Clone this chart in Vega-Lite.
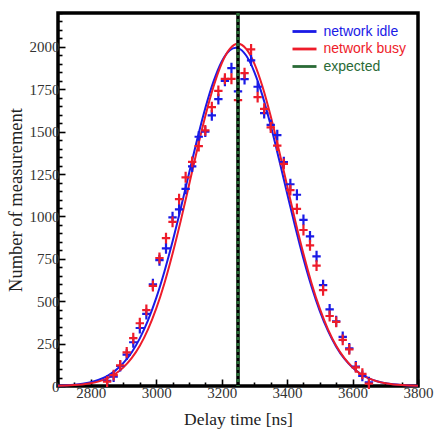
{
  "$schema": "https://vega.github.io/schema/vega-lite/v6.json",
  "width": 360,
  "height": 373,
  "autosize": "none",
  "padding": {"left": 58, "top": 13, "right": 16, "bottom": 48},
  "background": "white",
  "config": {
    "view": {"stroke": "black", "strokeWidth": 3.5},
    "axis": {
      "domain": false,
      "grid": false,
      "labelFont": "Liberation Serif",
      "labelFontSize": 15,
      "labelColor": "#333333",
      "titleFont": "Liberation Serif",
      "titleFontWeight": "normal",
      "titleColor": "#222222",
      "tickColor": "black",
      "tickWidth": 1.6
    }
  },
  "datasets": {
    "pts": [
      {"x": 2850, "y": 31, "series": "network idle"},
      {"x": 2870, "y": 55, "series": "network idle"},
      {"x": 2890, "y": 118, "series": "network idle"},
      {"x": 2910, "y": 185, "series": "network idle"},
      {"x": 2930, "y": 258, "series": "network idle"},
      {"x": 2950, "y": 342, "series": "network idle"},
      {"x": 2970, "y": 425, "series": "network idle"},
      {"x": 2990, "y": 600, "series": "network idle"},
      {"x": 3010, "y": 742, "series": "network idle"},
      {"x": 3030, "y": 812, "series": "network idle"},
      {"x": 3050, "y": 995, "series": "network idle"},
      {"x": 3070, "y": 1042, "series": "network idle"},
      {"x": 3090, "y": 1163, "series": "network idle"},
      {"x": 3110, "y": 1295, "series": "network idle"},
      {"x": 3130, "y": 1470, "series": "network idle"},
      {"x": 3150, "y": 1500, "series": "network idle"},
      {"x": 3170, "y": 1596, "series": "network idle"},
      {"x": 3190, "y": 1692, "series": "network idle"},
      {"x": 3210, "y": 1800, "series": "network idle"},
      {"x": 3230, "y": 1875, "series": "network idle"},
      {"x": 3250, "y": 1738, "series": "network idle"},
      {"x": 3270, "y": 1810, "series": "network idle"},
      {"x": 3290, "y": 1920, "series": "network idle"},
      {"x": 3310, "y": 1765, "series": "network idle"},
      {"x": 3330, "y": 1610, "series": "network idle"},
      {"x": 3350, "y": 1540, "series": "network idle"},
      {"x": 3370, "y": 1480, "series": "network idle"},
      {"x": 3390, "y": 1320, "series": "network idle"},
      {"x": 3410, "y": 1190, "series": "network idle"},
      {"x": 3430, "y": 1128, "series": "network idle"},
      {"x": 3450, "y": 980, "series": "network idle"},
      {"x": 3470, "y": 882, "series": "network idle"},
      {"x": 3490, "y": 765, "series": "network idle"},
      {"x": 3510, "y": 595, "series": "network idle"},
      {"x": 3530, "y": 452, "series": "network idle"},
      {"x": 3550, "y": 382, "series": "network idle"},
      {"x": 3570, "y": 290, "series": "network idle"},
      {"x": 3590, "y": 222, "series": "network idle"},
      {"x": 3610, "y": 115, "series": "network idle"},
      {"x": 3630, "y": 60, "series": "network idle"},
      {"x": 3650, "y": 22, "series": "network idle"},
      {"x": 2850, "y": 26, "series": "network busy"},
      {"x": 2870, "y": 64, "series": "network busy"},
      {"x": 2890, "y": 122, "series": "network busy"},
      {"x": 2910, "y": 198, "series": "network busy"},
      {"x": 2930, "y": 282, "series": "network busy"},
      {"x": 2950, "y": 370, "series": "network busy"},
      {"x": 2970, "y": 448, "series": "network busy"},
      {"x": 2990, "y": 590, "series": "network busy"},
      {"x": 3010, "y": 755, "series": "network busy"},
      {"x": 3030, "y": 872, "series": "network busy"},
      {"x": 3050, "y": 968, "series": "network busy"},
      {"x": 3070, "y": 1102, "series": "network busy"},
      {"x": 3090, "y": 1231, "series": "network busy"},
      {"x": 3110, "y": 1322, "series": "network busy"},
      {"x": 3130, "y": 1415, "series": "network busy"},
      {"x": 3150, "y": 1508, "series": "network busy"},
      {"x": 3170, "y": 1645, "series": "network busy"},
      {"x": 3190, "y": 1741, "series": "network busy"},
      {"x": 3210, "y": 1812, "series": "network busy"},
      {"x": 3230, "y": 1812, "series": "network busy"},
      {"x": 3250, "y": 1686, "series": "network busy"},
      {"x": 3270, "y": 1845, "series": "network busy"},
      {"x": 3290, "y": 1985, "series": "network busy"},
      {"x": 3310, "y": 1704, "series": "network busy"},
      {"x": 3330, "y": 1635, "series": "network busy"},
      {"x": 3350, "y": 1525, "series": "network busy"},
      {"x": 3370, "y": 1418, "series": "network busy"},
      {"x": 3390, "y": 1310, "series": "network busy"},
      {"x": 3410, "y": 1155, "series": "network busy"},
      {"x": 3430, "y": 1045, "series": "network busy"},
      {"x": 3450, "y": 920, "series": "network busy"},
      {"x": 3470, "y": 830, "series": "network busy"},
      {"x": 3490, "y": 710, "series": "network busy"},
      {"x": 3510, "y": 565, "series": "network busy"},
      {"x": 3530, "y": 413, "series": "network busy"},
      {"x": 3550, "y": 378, "series": "network busy"},
      {"x": 3570, "y": 272, "series": "network busy"},
      {"x": 3590, "y": 216, "series": "network busy"},
      {"x": 3610, "y": 110, "series": "network busy"},
      {"x": 3630, "y": 72, "series": "network busy"},
      {"x": 3650, "y": 14, "series": "network busy"}
    ],
    "fit": [
      {"x": 2700, "y": 2.4, "series": "network idle"},
      {"x": 2725, "y": 4.4, "series": "network idle"},
      {"x": 2750, "y": 7.8, "series": "network idle"},
      {"x": 2775, "y": 13.4, "series": "network idle"},
      {"x": 2800, "y": 22.6, "series": "network idle"},
      {"x": 2825, "y": 37, "series": "network idle"},
      {"x": 2850, "y": 58.7, "series": "network idle"},
      {"x": 2875, "y": 90.7, "series": "network idle"},
      {"x": 2900, "y": 136, "series": "network idle"},
      {"x": 2925, "y": 198, "series": "network idle"},
      {"x": 2950, "y": 281, "series": "network idle"},
      {"x": 2975, "y": 387, "series": "network idle"},
      {"x": 3000, "y": 518, "series": "network idle"},
      {"x": 3025, "y": 674, "series": "network idle"},
      {"x": 3050, "y": 852, "series": "network idle"},
      {"x": 3075, "y": 1047, "series": "network idle"},
      {"x": 3100, "y": 1251, "series": "network idle"},
      {"x": 3125, "y": 1452, "series": "network idle"},
      {"x": 3150, "y": 1638, "series": "network idle"},
      {"x": 3175, "y": 1795, "series": "network idle"},
      {"x": 3200, "y": 1913, "series": "network idle"},
      {"x": 3225, "y": 1980, "series": "network idle"},
      {"x": 3243, "y": 1995, "series": "network idle"},
      {"x": 3250, "y": 1993, "series": "network idle"},
      {"x": 3275, "y": 1949, "series": "network idle"},
      {"x": 3300, "y": 1852, "series": "network idle"},
      {"x": 3325, "y": 1711, "series": "network idle"},
      {"x": 3350, "y": 1536, "series": "network idle"},
      {"x": 3375, "y": 1340, "series": "network idle"},
      {"x": 3400, "y": 1137, "series": "network idle"},
      {"x": 3425, "y": 937, "series": "network idle"},
      {"x": 3450, "y": 750, "series": "network idle"},
      {"x": 3475, "y": 584, "series": "network idle"},
      {"x": 3500, "y": 442, "series": "network idle"},
      {"x": 3525, "y": 325, "series": "network idle"},
      {"x": 3550, "y": 232, "series": "network idle"},
      {"x": 3575, "y": 161, "series": "network idle"},
      {"x": 3600, "y": 109, "series": "network idle"},
      {"x": 3625, "y": 71, "series": "network idle"},
      {"x": 3650, "y": 45, "series": "network idle"},
      {"x": 3675, "y": 28, "series": "network idle"},
      {"x": 3700, "y": 17, "series": "network idle"},
      {"x": 3725, "y": 9.9, "series": "network idle"},
      {"x": 3750, "y": 5.6, "series": "network idle"},
      {"x": 3775, "y": 3.1, "series": "network idle"},
      {"x": 3800, "y": 1.7, "series": "network idle"},
      {"x": 2700, "y": 1.5, "series": "network busy"},
      {"x": 2725, "y": 2.9, "series": "network busy"},
      {"x": 2750, "y": 5.3, "series": "network busy"},
      {"x": 2775, "y": 9.4, "series": "network busy"},
      {"x": 2800, "y": 16.3, "series": "network busy"},
      {"x": 2825, "y": 27.5, "series": "network busy"},
      {"x": 2850, "y": 44.9, "series": "network busy"},
      {"x": 2875, "y": 71.2, "series": "network busy"},
      {"x": 2900, "y": 110, "series": "network busy"},
      {"x": 2925, "y": 164, "series": "network busy"},
      {"x": 2950, "y": 237, "series": "network busy"},
      {"x": 2975, "y": 334, "series": "network busy"},
      {"x": 3000, "y": 456, "series": "network busy"},
      {"x": 3025, "y": 605, "series": "network busy"},
      {"x": 3050, "y": 780, "series": "network busy"},
      {"x": 3075, "y": 974, "series": "network busy"},
      {"x": 3100, "y": 1182, "series": "network busy"},
      {"x": 3125, "y": 1392, "series": "network busy"},
      {"x": 3150, "y": 1591, "series": "network busy"},
      {"x": 3175, "y": 1765, "series": "network busy"},
      {"x": 3200, "y": 1902, "series": "network busy"},
      {"x": 3225, "y": 1988, "series": "network busy"},
      {"x": 3250, "y": 2018, "series": "network busy"},
      {"x": 3275, "y": 1988, "series": "network busy"},
      {"x": 3300, "y": 1902, "series": "network busy"},
      {"x": 3325, "y": 1765, "series": "network busy"},
      {"x": 3350, "y": 1591, "series": "network busy"},
      {"x": 3375, "y": 1392, "series": "network busy"},
      {"x": 3400, "y": 1182, "series": "network busy"},
      {"x": 3425, "y": 974, "series": "network busy"},
      {"x": 3450, "y": 780, "series": "network busy"},
      {"x": 3475, "y": 605, "series": "network busy"},
      {"x": 3500, "y": 456, "series": "network busy"},
      {"x": 3525, "y": 334, "series": "network busy"},
      {"x": 3550, "y": 237, "series": "network busy"},
      {"x": 3575, "y": 164, "series": "network busy"},
      {"x": 3600, "y": 110, "series": "network busy"},
      {"x": 3625, "y": 71, "series": "network busy"},
      {"x": 3650, "y": 45, "series": "network busy"},
      {"x": 3675, "y": 27.5, "series": "network busy"},
      {"x": 3700, "y": 16.3, "series": "network busy"},
      {"x": 3725, "y": 9.4, "series": "network busy"},
      {"x": 3750, "y": 5.3, "series": "network busy"},
      {"x": 3775, "y": 2.9, "series": "network busy"},
      {"x": 3800, "y": 1.5, "series": "network busy"}
    ],
    "exp": [
      {"x": 3250, "series": "expected"}
    ]
  },
  "encoding": {
    "x": {
      "field": "x",
      "type": "quantitative",
      "scale": {"domain": [2700, 3800], "nice": false, "zero": false},
      "axis": {
        "title": "Delay time [ns]",
        "titleFontSize": 17.5,
        "titlePadding": 7,
        "values": [2700, 2750, 2800, 2850, 2900, 2950, 3000, 3050, 3100, 3150, 3200, 3250, 3300, 3350, 3400, 3450, 3500, 3550, 3600, 3650, 3700, 3750, 3800],
        "labelExpr": "datum.value % 200 === 0 && datum.value > 2700 ? datum.label : ''",
        "format": "d",
        "tickSize": {"condition": {"test": "datum.value % 200 === 0", "value": -7}, "value": -4},
        "labelPadding": 6,
        "labelFlush": false,
        "labelOverlap": false
      }
    },
    "y": {
      "field": "y",
      "type": "quantitative",
      "scale": {"domain": [0, 2200], "nice": false},
      "axis": {
        "title": "Number of measurement",
        "titleFontSize": 18.5,
        "titlePadding": 4,
        "values": [0, 50, 100, 150, 200, 250, 300, 350, 400, 450, 500, 550, 600, 650, 700, 750, 800, 850, 900, 950, 1000, 1050, 1100, 1150, 1200, 1250, 1300, 1350, 1400, 1450, 1500, 1550, 1600, 1650, 1700, 1750, 1800, 1850, 1900, 1950, 2000, 2050, 2100, 2150, 2200],
        "labelExpr": "datum.value % 250 === 0 ? datum.label : ''",
        "format": "d",
        "tickSize": {"condition": {"test": "datum.value % 250 === 0", "value": -7}, "value": -4},
        "labelPadding": 6,
        "labelFlush": false,
        "labelOverlap": false
      }
    }
  },
  "layer": [
    {
      "data": {"name": "fit"},
      "mark": {"type": "line", "strokeWidth": 2, "interpolate": "monotone"},
      "encoding": {
        "color": {
          "field": "series",
          "type": "nominal",
          "sort": ["network idle", "network busy", "expected"],
          "scale": {"domain": ["network idle", "network busy", "expected"], "range": ["#1a1ae6", "#ee1c2a", "#2a6a36"]},
          "legend": {
            "title": null,
            "orient": "none",
            "legendX": 239.5,
            "legendY": 11.5,
            "padding": 0,
            "symbolType": "M-2.4,0L2.4,0",
            "symbolSize": 100,
            "symbolStrokeWidth": 2.8,
            "labelOffset": 12,
            "labelFont": "Liberation Sans",
            "labelFontSize": 14,
            "rowPadding": 3.5,
            "encode": {"labels": {"update": {"fill": {"scale": "color", "field": "value"}}}}
          }
        },
        "detail": {"field": "series"}
      }
    },
    {
      "data": {"name": "pts"},
      "mark": {"type": "point", "filled": false, "shape": "M-1,0L1,0M0,-1.3L0,1.3", "size": 70, "strokeWidth": 2.2, "opacity": 1},
      "encoding": {
        "stroke": {
          "field": "series",
          "type": "nominal",
          "scale": {"domain": ["network idle", "network busy"], "range": ["#1a1ae6", "#ee1c2a"]},
          "legend": null
        }
      }
    },
    {
      "data": {"name": "exp"},
      "mark": {"type": "rule", "strokeWidth": 3.5, "color": "black"},
      "encoding": {"x": {"field": "x", "type": "quantitative"}, "y": null}
    },
    {
      "data": {"name": "exp"},
      "mark": {"type": "rule", "strokeWidth": 3.5, "strokeDash": [3, 3]},
      "encoding": {
        "x": {"field": "x", "type": "quantitative"},
        "y": null,
        "color": {"field": "series", "type": "nominal"}
      }
    }
  ]
}
